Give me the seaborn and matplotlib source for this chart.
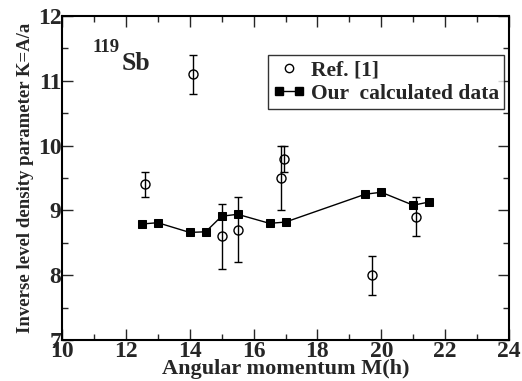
import matplotlib
matplotlib.use("Agg")
import matplotlib.pyplot as plt
import seaborn as sns
import pandas as pd
from matplotlib.lines import Line2D
from matplotlib.legend_handler import HandlerLine2D
import matplotlib.ticker as mticker

# calculated data (filled squares joined by a line)
calc_m = [12.5, 13.0, 14.0, 14.5, 15.0, 15.5, 16.5, 17.0, 19.5, 20.0, 21.0, 21.5]
calc_k = [8.79, 8.81, 8.66, 8.67, 8.91, 8.94, 8.80, 8.82, 9.25, 9.28, 9.08, 9.13]

# Ref. [1] (open circles with error bars)
ref_m = [12.6, 14.1, 15.0, 15.5, 16.85, 16.95, 19.7, 21.1]
ref_k = [9.4, 11.1, 8.6, 8.7, 9.5, 9.8, 8.0, 8.9]
ref_err = [0.2, 0.3, 0.5, 0.5, 0.5, 0.2, 0.3, 0.3]

x_ticks = [10, 12, 14, 16, 18, 20, 22, 24]
y_ticks = [7, 8, 9, 10, 11, 12]


def main():
    sns.set_style("ticks")
    plt.rcParams['font.family'] = ['Liberation Serif', 'DejaVu Serif']
    plt.rcParams['font.weight'] = 'bold'

    fig = plt.figure(figsize=(5.22, 3.81), dpi=100)
    ax = fig.add_axes([62 / 522, 1 - 340 / 381, 447 / 522, 324 / 381])

    calc = pd.DataFrame({"M": calc_m, "K": calc_k})
    sns.lineplot(data=calc, x="M", y="K", ax=ax, color="black", lw=1.0,
                 marker="s", markersize=6, markeredgecolor="black",
                 zorder=3)

    ax.errorbar(ref_m, ref_k, yerr=ref_err, fmt="o", mfc="none",
                mec="black", ms=6.5, mew=1.0, ecolor="black", elinewidth=1.0,
                capsize=3, capthick=1.0, zorder=4)

    ax.set_xlim(10, 24)
    ax.set_ylim(7, 12)
    ax.set_xticks(x_ticks)
    ax.set_yticks(y_ticks)
    ax.xaxis.set_minor_locator(mticker.MultipleLocator(1))
    ax.yaxis.set_minor_locator(mticker.MultipleLocator(0.5))
    ax.tick_params(which="both", direction="in", top=True, right=True,
                   width=1.0)
    ax.tick_params(which="major", length=8, labelsize=17, pad=0.5)
    ax.tick_params(which="minor", length=4)
    ax.tick_params(axis="x", labeltop=False)
    ax.tick_params(axis="y", labelright=False)
    for lab in ax.get_xticklabels() + ax.get_yticklabels():
        lab.set_fontweight("bold")
    for sp in ax.spines.values():
        sp.set_linewidth(1.5)
        sp.set_color("black")

    ax.set_xlabel("Angular momentum M(h)", fontsize=16, fontweight="bold",
                  labelpad=-2)
    ax.set_ylabel("Inverse level density parameter K=A/a", fontsize=13.5,
                  fontweight="bold", labelpad=3)

    # nucleus label: superscript mass number + element
    ax.text(0.069, 0.889, "119", transform=ax.transAxes,
            fontsize=13.5, fontweight="bold", va="baseline")
    ax.text(0.134, 0.833, "Sb", transform=ax.transAxes,
            fontsize=18.5, fontweight="bold", va="baseline")

    h_ref = Line2D([], [], ls="none", marker="o", mfc="none", mec="black",
                   ms=6, mew=1.0)
    h_calc = Line2D([], [], color="black", lw=1.0, marker="s", ms=5.5)
    leg = ax.legend([h_ref, h_calc], ["Ref. [1]", "Our  calculated data"],
                    loc="upper left", bbox_to_anchor=(0.46, 0.88),
                    frameon=True, fancybox=False, numpoints=2,
                    handlelength=1.5, handletextpad=0.25, borderpad=0.25,
                    labelspacing=0.15, borderaxespad=0,
                    prop={"size": 15.5, "weight": "bold"},
                    handler_map={h_ref: HandlerLine2D(numpoints=1)})
    leg.get_frame().set_edgecolor("black")
    leg.get_frame().set_linewidth(1.0)

    fig.savefig("out.png", dpi=100)


if __name__ == "__main__":
    main()
